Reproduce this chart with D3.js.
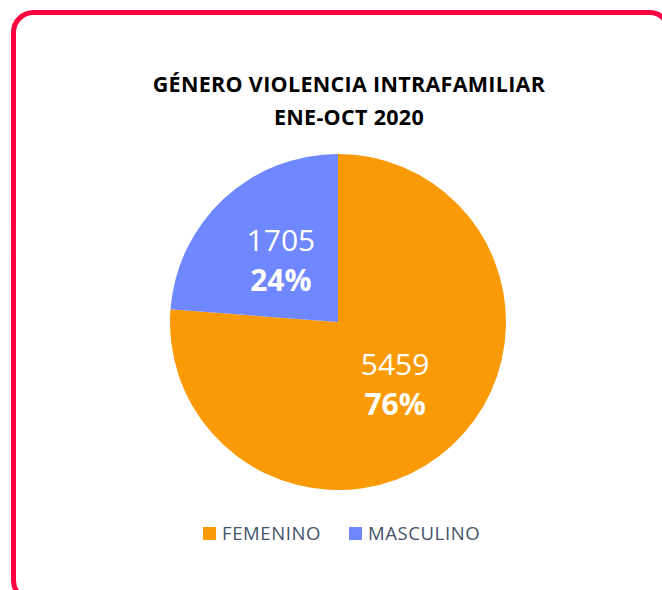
<!DOCTYPE html>
<html>
<head>
<meta charset="utf-8">
<script src="https://cdn.jsdelivr.net/npm/d3@7"></script>
<style>
  body { margin: 0; background: #fff; }
  svg { display: block; }
</style>
</head>
<body>
<div id="chart"></div>
<script>
// datos del gráfico
const categorias = ["FEMENINO", "MASCULINO"];
const valores = [5459, 1705];
const porcentajes = ["76%", "24%"];
const colores = ["#FA9A06", "#6F87FF"];
const titulo = ["GÉNERO VIOLENCIA INTRAFAMILIAR", "ENE-OCT 2020"];

const width = 662, height = 590;
const cx = 338, cy = 322, r = 168;

const svg = d3.select("#chart").append("svg")
    .attr("width", width)
    .attr("height", height);

// marco rojo redondeado (se sale por la derecha y por abajo)
svg.append("rect")
    .attr("x", 13.5).attr("y", 12.5)
    .attr("width", 656).attr("height", 588)
    .attr("rx", 20)
    .attr("fill", "#fff")
    .attr("stroke", "#FF0040")
    .attr("stroke-width", 5);

// título
svg.append("g").selectAll("text")
    .data(titulo)
    .enter().append("text")
    .attr("x", 349)
    .attr("y", (d, i) => 92 + i * 33)
    .attr("text-anchor", "middle")
    .attr("font-family", "'Open Sans', sans-serif")
    .attr("font-weight", 700)
    .attr("font-size", 21.5)
    .attr("letter-spacing", 0.3)
    .attr("fill", "#000")
    .text(d => d);

const data = categorias.map((c, i) => ({ cat: c, val: valores[i], pct: porcentajes[i], color: colores[i] }));

const pie = d3.pie().sort(null).value(d => d.val);
const arc = d3.arc().innerRadius(0).outerRadius(r);

const g = svg.append("g").attr("transform", `translate(${cx},${cy})`);
const arcs = pie(data);

g.selectAll("path")
    .data(arcs)
    .enter().append("path")
    .attr("d", arc)
    .attr("fill", d => d.data.color);

// etiquetas dentro de cada sector
const lab = g.selectAll("g.lab")
    .data(arcs)
    .enter().append("g")
    .attr("class", "lab")
    .attr("transform", d => {
        const c = arc.centroid(d);
        return `translate(${c[0]},${c[1]})`;
    });

lab.append("text")
    .attr("text-anchor", "middle")
    .attr("y", -9)
    .attr("font-family", "'Open Sans', sans-serif")
    .attr("font-size", 30)
    .attr("fill", "#fff")
    .text(d => d.data.val);

lab.append("text")
    .attr("text-anchor", "middle")
    .attr("y", 31)
    .attr("font-family", "'Open Sans', sans-serif")
    .attr("font-weight", 700)
    .attr("font-size", 30)
    .attr("fill", "#fff")
    .text(d => d.data.pct);

// leyenda
const legX = [203, 349];
const leg = svg.append("g").selectAll("g")
    .data(data)
    .enter().append("g")
    .attr("transform", (d, i) => `translate(${legX[i]},527)`);

leg.append("rect")
    .attr("width", 13).attr("height", 13)
    .attr("fill", d => d.color);

leg.append("text")
    .attr("x", 19)
    .attr("y", 12.5)
    .attr("font-family", "'Open Sans', sans-serif")
    .attr("font-size", 18.5)
    .attr("letter-spacing", 0.6)
    .attr("fill", "#44546A")
    .text(d => d.cat);
</script>
</body>
</html>
